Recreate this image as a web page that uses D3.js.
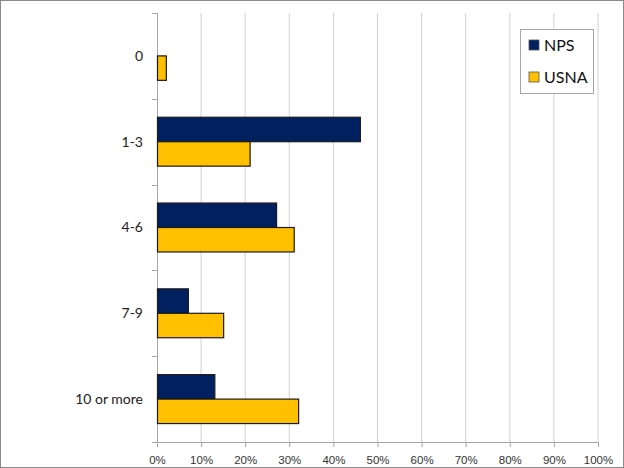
<!DOCTYPE html>
<html>
<head>
<meta charset="utf-8">
<script src="https://cdn.jsdelivr.net/npm/d3@7"></script>
<style>
  body { margin: 0; background: #fff; }
  svg { display: block; }
</style>
</head>
<body>
<script>
// categories and series values (percent)
const categories = ['0', '1-3', '4-6', '7-9', '10 or more'];
const seriesNames = ['NPS', 'USNA'];
const npsValues = [0, 46, 27, 7, 13];
const usnaValues = [2, 21, 31, 15, 32];
const xTicks = [0, 10, 20, 30, 40, 50, 60, 70, 80, 90, 100];

const colors = { NPS: '#002060', USNA: '#FFC000' };

const W = 624, H = 468;
const margin = { top: 13, right: 26, bottom: 26, left: 157 };
const plotW = W - margin.left - margin.right;
const plotH = H - margin.top - margin.bottom;

const svg = d3.select('body').append('svg')
  .attr('width', W)
  .attr('height', H)
  .style('font-family', 'Lato, "Open Sans", sans-serif');

// outer frame
svg.append('rect')
  .attr('x', 0.5).attr('y', 0.5)
  .attr('width', W - 1).attr('height', H - 1)
  .attr('fill', '#fff')
  .attr('stroke', '#8c8c8c');

const g = svg.append('g')
  .attr('transform', `translate(${margin.left},${margin.top})`);

const x = d3.scaleLinear().domain([0, 100]).range([0, plotW]);
const y = d3.scaleBand().domain(categories).range([0, plotH]).paddingInner(0.43).paddingOuter(0.215);
const ySub = d3.scaleBand().domain(seriesNames).range([0, y.bandwidth()]);

// gridlines
g.append('g')
  .selectAll('line')
  .data(xTicks.slice(1))
  .enter().append('line')
  .attr('x1', d => x(d)).attr('x2', d => x(d))
  .attr('y1', 0).attr('y2', plotH)
  .attr('stroke', '#d0d0d0')
  .attr('stroke-width', 1);

// x axis
const xAxis = g.append('g')
  .attr('transform', `translate(0,${plotH})`)
  .call(d3.axisBottom(x).tickValues(xTicks).tickFormat(d => d + '%').tickSize(5).tickSizeOuter(0));
xAxis.select('.domain').attr('stroke', '#a6a6a6').attr('d', `M-5,0.5H${plotW}`);
xAxis.selectAll('.tick line').attr('stroke', '#a6a6a6');
xAxis.selectAll('text')
  .attr('fill', '#333')
  .attr('font-size', '11.5px')
  .attr('dy', '1.2em');

// y axis: ticks between categories
const boundaries = d3.range(categories.length + 1).map(i => i * plotH / categories.length);
const yAx = g.append('g');
yAx.append('line')
  .attr('x1', 0.5).attr('x2', 0.5)
  .attr('y1', 0).attr('y2', plotH)
  .attr('stroke', '#a6a6a6');
yAx.selectAll('line.tk')
  .data(boundaries)
  .enter().append('line')
  .attr('class', 'tk')
  .attr('x1', -5).attr('x2', 0)
  .attr('y1', d => Math.round(d) + 0.5).attr('y2', d => Math.round(d) + 0.5)
  .attr('stroke', '#a6a6a6');
yAx.selectAll('text')
  .data(categories)
  .enter().append('text')
  .attr('x', -14)
  .attr('y', d => y(d) + y.bandwidth() / 2)
  .attr('dy', '0.35em')
  .attr('text-anchor', 'end')
  .attr('font-size', '14px')
  .attr('fill', '#222')
  .text(d => d);

// bars
const rows = categories.map((c, i) => ({ cat: c, NPS: npsValues[i], USNA: usnaValues[i] }));
const groups = g.selectAll('g.grp')
  .data(rows)
  .enter().append('g')
  .attr('class', 'grp')
  .attr('transform', d => `translate(0,${y(d.cat)})`);

groups.selectAll('rect')
  .data(d => seriesNames.map(s => ({ s: s, v: d[s] })).filter(e => e.v > 0))
  .enter().append('rect')
  .attr('x', 0.5)
  .attr('y', d => ySub(d.s))
  .attr('width', d => x(d.v))
  .attr('height', ySub.bandwidth())
  .attr('fill', d => colors[d.s])
  .attr('stroke', '#1a1a1a')
  .attr('stroke-width', 1.2);

// legend
const lg = svg.append('g').attr('transform', 'translate(520,29)');
lg.append('rect')
  .attr('x', 0.5).attr('y', 0.5)
  .attr('width', 73).attr('height', 64)
  .attr('fill', '#fff')
  .attr('stroke', '#a6a6a6');
seriesNames.forEach((s, i) => {
  const row = lg.append('g').attr('transform', `translate(9,${11 + i * 32})`);
  row.append('rect')
    .attr('width', 10).attr('height', 10)
    .attr('fill', colors[s])
    .attr('stroke', '#555')
    .attr('stroke-width', 0.8);
  row.append('text')
    .attr('x', 15).attr('y', 5)
    .attr('dy', '0.36em')
    .attr('font-size', '16px')
    .attr('fill', '#111')
    .text(s);
});
</script>
</body>
</html>
